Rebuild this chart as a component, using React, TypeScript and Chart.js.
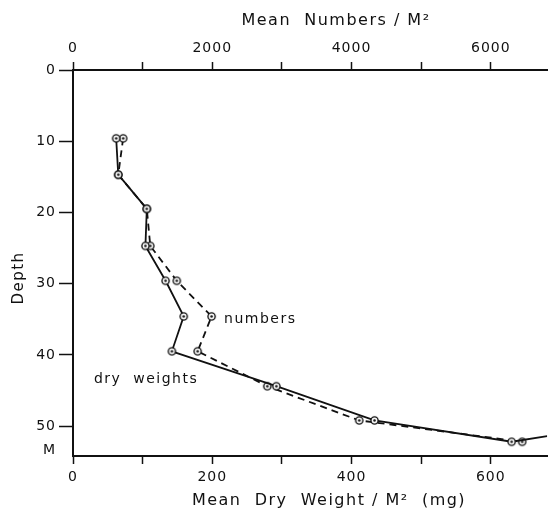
import React, { useEffect, useRef } from 'react';
import { Chart, registerables } from 'chart.js';

Chart.register(...registerables);

// Depth axis (m)
const depthTickValues = [0, 10, 20, 30, 40, 50];
const depthBottomLabel = 'M';
const depthBottomLabelAt = 53.4;

// Top axis ticks (numbers / m²) and bottom axis ticks (mg)
const numberTickValues = [0, 1000, 2000, 3000, 4000, 5000, 6000];
const numberLabelStep = 2000;
const weightTickValues = [0, 100, 200, 300, 400, 500, 600];
const weightLabelStep = 200;

// Titles and annotations
const topTitle = 'Mean  Numbers / M²';
const bottomTitle = 'Mean  Dry  Weight / M²  (mg)';
const leftTitle = 'Depth';
const numbersNote = 'numbers';
const dryNote = 'dry  weights';

// Dry weight series (solid line)
const dryDepths = [9.6, 14.7, 19.5, 24.7, 29.6, 34.6, 39.5, 44.4, 49.2, 52.2, 51.4];
const dryWeights = [62, 65, 106, 104, 133, 159, 142, 292, 433, 630, 681];

// Numbers series (dashed line)
const numberDepths = [9.6, 14.7, 19.5, 24.7, 29.6, 34.6, 39.5, 44.4, 49.2, 52.2];
const meanNumbers = [720, 650, 1060, 1110, 1490, 1990, 1790, 2790, 4110, 6450];

const FONT = '"DejaVu Sans", sans-serif';
const INK = '#111';

function makeMarker(): HTMLCanvasElement {
  const c = document.createElement('canvas');
  c.width = 11;
  c.height = 11;
  const g = c.getContext('2d')!;
  g.fillStyle = '#fff';
  g.beginPath();
  g.arc(5.5, 5.5, 3.6, 0, Math.PI * 2);
  g.fill();
  g.strokeStyle = INK;
  g.lineWidth = 1.4;
  g.stroke();
  g.fillStyle = INK;
  g.beginPath();
  g.arc(5.5, 5.5, 1.3, 0, Math.PI * 2);
  g.fill();
  return c;
}

export default function App() {
  const ref = useRef<HTMLCanvasElement | null>(null);

  useEffect(() => {
    const canvas = ref.current;
    if (!canvas) return;
    const marker = makeMarker();

    const textPlugin = {
      id: 'labels',
      beforeDraw(chart: any) {
        (chart.ctx as any).letterSpacing = '1px';
      },
      afterDraw(chart: any) {
        const { ctx, scales, chartArea } = chart;
        ctx.save();
        ctx.fillStyle = INK;
        ctx.textBaseline = 'middle';
        ctx.textAlign = 'center';
        (ctx as any).letterSpacing = '1.5px';
        ctx.font = `16px ${FONT}`;
        ctx.fillText(topTitle, chartArea.left + 263, 21);
        ctx.fillText(bottomTitle, chartArea.left + 256, 501);
        ctx.save();
        ctx.font = `15px ${FONT}`;
        ctx.translate(19, 278);
        ctx.rotate(-Math.PI / 2);
        ctx.fillText(leftTitle, 0, 0);
        ctx.restore();

        ctx.font = `14px ${FONT}`;
        ctx.textAlign = 'left';
        ctx.fillText(numbersNote, scales.x2.getPixelForValue(2170), scales.y.getPixelForValue(35.0));
        ctx.fillText(dryNote, scales.x.getPixelForValue(30), scales.y.getPixelForValue(43.4));
        ctx.restore();
      },
    };

    const chart = new Chart(canvas, {
      type: 'scatter',
      data: {
        datasets: [
          {
            label: 'dry weights',
            data: dryWeights.map((w, i) => ({ x: w, y: dryDepths[i] })),
            xAxisID: 'x',
            yAxisID: 'y',
            showLine: true,
            borderColor: INK,
            borderWidth: 1.8,
            pointStyle: marker as any,
            pointRadius: dryWeights.map((_, i) => (i === dryWeights.length - 1 ? 0 : 4)),
            tension: 0,
          },
          {
            label: 'numbers',
            data: meanNumbers.map((n, i) => ({ x: n, y: numberDepths[i] })),
            xAxisID: 'x2',
            yAxisID: 'y',
            showLine: true,
            borderColor: INK,
            borderWidth: 1.8,
            borderDash: [7, 5],
            pointStyle: marker as any,
            pointRadius: 4,
            tension: 0,
          },
        ],
      },
      options: {
        responsive: false,
        animation: false,
        layout: { padding: 0 },
        plugins: {
          legend: { display: false },
          tooltip: { enabled: false },
        },
        scales: {
          x: {
            type: 'linear',
            position: 'bottom',
            min: 0,
            max: 681,
            afterFit: (s: any) => {
              s.height = 57;
            },
            afterBuildTicks: (s: any) => {
              s.ticks = weightTickValues.map((v) => ({ value: v }));
            },
            border: { color: INK, width: 2 },
            grid: { drawOnChartArea: false, tickLength: 8, tickWidth: 1.5, tickColor: INK },
            ticks: {
              color: INK,
              padding: 5,
              maxRotation: 0,
              autoSkip: false,
              font: { family: FONT, size: 14 },
              callback: (v: any) => (Number(v) % weightLabelStep === 0 ? String(v) : ''),
            },
            title: { display: false },
          },
          x2: {
            type: 'linear',
            position: 'top',
            min: 0,
            max: 6810,
            afterFit: (s: any) => {
              s.height = 70;
            },
            afterBuildTicks: (s: any) => {
              s.ticks = numberTickValues.map((v) => ({ value: v }));
            },
            border: { color: INK, width: 2 },
            grid: { drawOnChartArea: false, tickLength: 8, tickWidth: 1.5, tickColor: INK },
            ticks: {
              color: INK,
              padding: 5,
              maxRotation: 0,
              autoSkip: false,
              font: { family: FONT, size: 14 },
              callback: (v: any) => (Number(v) % numberLabelStep === 0 ? String(v) : ''),
            },
            title: { display: false },
          },
          y: {
            type: 'linear',
            position: 'left',
            reverse: true,
            min: 0,
            max: 54.2,
            afterFit: (s: any) => {
              s.width = 73;
            },
            afterBuildTicks: (s: any) => {
              s.ticks = [...depthTickValues, depthBottomLabelAt].map((v) => ({ value: v }));
            },
            border: { color: INK, width: 2 },
            grid: {
              drawOnChartArea: false,
              tickLength: 14,
              tickWidth: 1.5,
              tickColor: (c: any) => (c.tick && c.tick.value === depthBottomLabelAt ? 'rgba(0,0,0,0)' : INK),
            },
            ticks: {
              color: INK,
              padding: 3,
              autoSkip: false,
              font: { family: FONT, size: 14 },
              callback: (v: any) => (Number(v) === depthBottomLabelAt ? depthBottomLabel : String(v)),
            },
            title: { display: false },
          },
        },
      },
      plugins: [textPlugin],
    } as any);

    return () => chart.destroy();
  }, []);

  return (
    <div style={{ position: 'fixed', left: 0, top: 0, width: 553, height: 513, background: '#fff' }}>
      <canvas ref={ref} width={553} height={513} style={{ display: 'block', width: 553, height: 513 }} />
    </div>
  );
}
